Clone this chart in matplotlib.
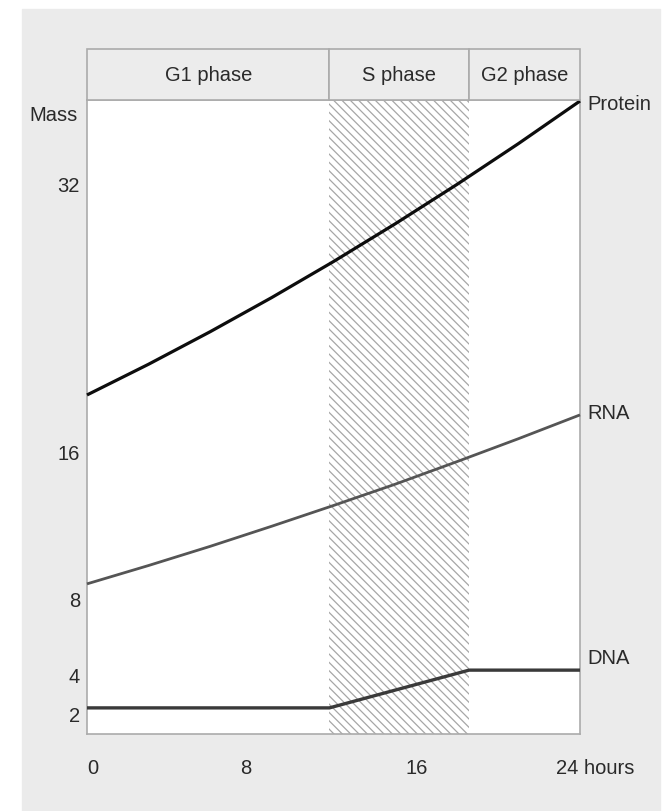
import numpy as np
import matplotlib
matplotlib.use("Agg")
import matplotlib.pyplot as plt
from matplotlib.patches import Rectangle
from matplotlib.transforms import ScaledTranslation

# ---------------- data ----------------
phase_names = ["G1 phase", "S phase", "G2 phase"]
phase_bounds = [0, 11.8, 18.6, 24]          # hours

hours = [0, 3, 6, 9, 12, 15, 18, 21, 24]
protein = [19.18, 20.96, 22.87, 24.91, 27.09, 29.42, 31.90, 34.54, 37.36]
rna = [8.75, 9.73, 10.76, 11.85, 12.98, 14.15, 15.40, 16.69, 18.04]

dna_hours = [0, 11.8, 18.6, 24]
dna = [2.31, 2.31, 4.24, 4.24]

y_ticks = [2, 4, 8, 16, 32]
x_ticks = [0, 8, 16, 24]
x_ticklabels = ["0", "8", "16", "24 hours"]
series_labels = ["Protein", "RNA", "DNA"]

# ---------------- style ----------------
plt.rcParams["font.family"] = ["Liberation Sans", "DejaVu Sans"]
plt.rcParams["hatch.linewidth"] = 0.9
TXT = "#2a2a2a"
FS = 14.5

W, H = 670, 812
fig = plt.figure(figsize=(W / 100, H / 100), dpi=100)
fig.patch.set_facecolor("white")
fig.add_artist(Rectangle((22 / W, 0), (660 - 22) / W, (H - 10) / H,
                         transform=fig.transFigure, color="#ebebeb", zorder=-10))

L, R, T, B = 87, 580, 101, 735
ax = fig.add_axes([L / W, (H - B) / H, (R - L) / W, (B - T) / H])
hax = fig.add_axes([L / W, (H - T) / H, (R - L) / W, (T - 50) / H])

# schematic, slightly compressive mass axis (smooth calibration to the drawn ticks)
_a, _b, _c = -19.74, 20.007, -0.06786
def _fwd(v):
    v = np.asarray(v, float)
    return _a + _b * v + _c * v * v
def _inv(p):
    p = np.asarray(p, float)
    disc = np.maximum(_b * _b - 4 * _c * (_a - p), 0)
    return (-_b + np.sqrt(disc)) / (2 * _c)
ax.set_yscale("function", functions=(_fwd, _inv))
ax.set_xlim(0, 24)
ax.set_ylim(float(_inv(0)), float(_inv(634)))

ax.set_facecolor("white")
for s in ax.spines.values():
    s.set_color("#ababab")
    s.set_linewidth(1.2)

# S-phase hatch
ax.axvspan(phase_bounds[1], phase_bounds[2], facecolor="white",
           edgecolor="#a6a6a6", hatch="\\\\\\\\", linewidth=0, zorder=0.5)

ax.plot(hours, protein, color="#0d0d0d", lw=2.3, solid_capstyle="butt", zorder=3, clip_on=False)
ax.plot(hours, rna, color="#555555", lw=2.0, solid_capstyle="butt", zorder=3, clip_on=False)
ax.plot(dna_hours, dna, color="#3a3a3a", lw=2.4, solid_capstyle="butt", zorder=3, clip_on=False)

# right-hand series labels
offsets = [(5, -2), (5, 2), (5, 9)]
for lab, xs, ys, off in zip(series_labels, [hours, hours, dna_hours],
                            [protein, rna, dna], offsets):
    ax.annotate(lab, xy=(xs[-1], ys[-1]), xytext=off, textcoords="offset points",
                ha="left", va="center", fontsize=FS, color=TXT, annotation_clip=False)

ax.set_yticks(y_ticks)
ax.set_yticklabels([str(v) for v in y_ticks])
ax.yaxis.set_minor_locator(matplotlib.ticker.NullLocator())
ax.set_xticks(x_ticks)
ax.set_xticklabels(x_ticklabels)
ax.tick_params(axis="y", length=0, pad=5, labelsize=FS, labelcolor=TXT)
ax.tick_params(axis="x", length=0, pad=17, labelsize=FS, labelcolor=TXT)

xoffs = [6, -6, 1, -24]
for lbl, dx in zip(ax.get_xticklabels(), xoffs):
    lbl.set_transform(lbl.get_transform() + ScaledTranslation(dx / 100, 0, fig.dpi_scale_trans))
ax.get_xticklabels()[-1].set_horizontalalignment("left")

fig.text(78 / W, 1 - 116 / H, "Mass", ha="right", va="center", fontsize=FS, color=TXT)

# phase header
hax.set_xlim(0, 24)
hax.set_ylim(0, 1)
hax.axis("off")
for name, a, b in zip(phase_names, phase_bounds[:-1], phase_bounds[1:]):
    hax.add_patch(Rectangle((a, 0), b - a, 1, facecolor="#ececec",
                            edgecolor="#ababab", lw=1.2, clip_on=False))
    hax.text((a + b) / 2, 0.5, name, ha="center", va="center",
             fontsize=FS, color=TXT)

fig.savefig("out.png", dpi=100)
